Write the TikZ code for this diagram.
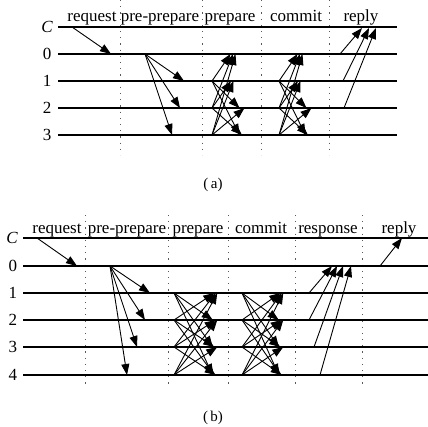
\documentclass[tikz,border=0pt]{standalone}
\usepackage{fontspec}
\setmainfont{Liberation Serif}
\usetikzlibrary{arrows.meta}
\begin{document}
\begin{tikzpicture}[x=1pt,y=-1pt,
  lane/.style={line width=1.3pt},
  msg/.style={line width=0.9pt,-{Triangle[length=11pt,width=8pt]}},
  sepline/.style={line width=1pt,black!65,dash pattern=on 1.2pt off 5pt},
  rowlabel/.style={inner sep=0pt,font=\fontsize{17}{20}\selectfont},
  phase/.style={inner sep=0pt,anchor=base,font=\fontsize{17}{20}\selectfont},
  captext/.style={inner sep=0pt,font=\fontsize{15}{18}\selectfont}]
\useasboundingbox (0,0) rectangle (428,426);
% ---------------- panel (a) ----------------
\foreach \x [count=\k] in {120,202,261,329}{
  \coordinate (aT\k) at (\x,0); \coordinate (aB\k) at (\x,155);
  \draw[sepline] (aT\k) -- (aB\k);}
\foreach \n/\y in {C/27,0/54,1/81,2/108,3/135}{
  \coordinate (aL\n) at (58,\y); \coordinate (aR\n) at (397,\y);
  \draw[lane] (aL\n) -- (aR\n);}
\node[rowlabel] (alC) at (47,27) {\textit{C}};
\node[rowlabel] (al0) at (47,54) {0};
\node[rowlabel] (al1) at (47,81) {1};
\node[rowlabel] (al2) at (47,108) {2};
\node[rowlabel] (al3) at (47,135) {3};
\node[phase] (aph1) at (92,21) {request};
\node[phase] (aph2) at (160,21) {pre-prepare};
\node[phase] (aph3) at (230,21) {prepare};
\node[phase] (aph4) at (296,21) {commit};
\node[phase] (aph5) at (361,21) {reply};
% request
\coordinate (aqS) at (72,27); \coordinate (aqE) at (111,54);
\draw[msg] (aqS) -- (aqE);
% pre-prepare
\coordinate (appS) at (145,54);
\coordinate (appE1) at (184,81); \coordinate (appE2) at (180,108); \coordinate (appE3) at (172,135);
\foreach \k in {1,2,3}{\draw[msg] (appS) -- (appE\k);}
% prepare & commit
\foreach \ph/\sx/\ta/\tb/\tc/\td in {p/212/233/231/242/242, c/279/300/298/309/308}{
  \foreach \s/\sy in {1/81,2/108,3/135}{
    \coordinate (a\ph S\s) at (\sx,\sy);
    \foreach \d/\dy/\tx in {0/54/\ta,1/81/\tb,2/108/\tc,3/135/\td}{
      \ifnum\s=\d\relax\else
        \coordinate (a\ph E\s\d) at ({\tx+(\s-2)*2.5},\dy);
        \draw[msg] (a\ph S\s) -- (a\ph E\s\d);
      \fi}}}
% reply
\coordinate (arS1) at (340,54); \coordinate (arE1) at (362,28);
\coordinate (arS2) at (343,81); \coordinate (arE2) at (369,28);
\coordinate (arS3) at (344,108); \coordinate (arE3) at (376,28);
\foreach \k in {1,2,3}{\draw[msg] (arS\k) -- (arE\k);}
\node[captext] (capa) at (213,185) {(\,a)};
% ---------------- panel (b) ----------------
\foreach \x [count=\k] in {85,168,228,295,362}{
  \coordinate (bT\k) at (\x,215); \coordinate (bB\k) at (\x,387);
  \draw[sepline] (bT\k) -- (bB\k);}
\foreach \n/\y in {C/238,0/266,1/293,2/320,3/347,4/375}{
  \coordinate (bL\n) at (23,\y); \coordinate (bR\n) at (428,\y);
  \draw[lane] (bL\n) -- (bR\n);}
\node[rowlabel] (blC) at (12,238) {\textit{C}};
\node[rowlabel] (bl0) at (13,266) {0};
\node[rowlabel] (bl1) at (13,293) {1};
\node[rowlabel] (bl2) at (13,320) {2};
\node[rowlabel] (bl3) at (13,347) {3};
\node[rowlabel] (bl4) at (13,375) {4};
\node[phase] (bph1) at (57,233) {request};
\node[phase] (bph2) at (127,233) {pre-prepare};
\node[phase] (bph3) at (198,233) {prepare};
\node[phase] (bph4) at (261,233) {commit};
\node[phase] (bph5) at (328,233) {response};
\node[phase] (bph6) at (399,233) {reply};
% request
\coordinate (bqS) at (37,238); \coordinate (bqE) at (77,266);
\draw[msg] (bqS) -- (bqE);
% pre-prepare
\coordinate (bppS) at (110,266);
\coordinate (bppE1) at (150,293); \coordinate (bppE2) at (145,320);
\coordinate (bppE3) at (137,347); \coordinate (bppE4) at (127,375);
\foreach \k in {1,2,3,4}{\draw[msg] (bppS) -- (bppE\k);}
% prepare & commit
\foreach \ph/\sx/\tx in {p/174/215, c/242/281}{
  \foreach \s/\sy in {1/293,2/320,3/347,4/375}{
    \coordinate (b\ph S\s) at (\sx,\sy);
    \foreach \d/\dy in {1/293,2/320,3/347,4/375}{
      \ifnum\s=\d\relax\else
        \coordinate (b\ph E\s\d) at ({\tx+(\s-2.5)*1.5},\dy);
        \draw[msg] (b\ph S\s) -- (b\ph E\s\d);
      \fi}}}
% response
\coordinate (brS1) at (309,293); \coordinate (brE1) at (332,266);
\coordinate (brS2) at (309,320); \coordinate (brE2) at (337,266);
\coordinate (brS3) at (314,347); \coordinate (brE3) at (343,266);
\coordinate (brS4) at (320,375); \coordinate (brE4) at (351,266);
\foreach \k in {1,2,3,4}{\draw[msg] (brS\k) -- (brE\k);}
% reply
\coordinate (byS) at (380,266); \coordinate (byE) at (402,238);
\draw[msg] (byS) -- (byE);
\node[captext] (capb) at (213,418) {(\,b)};
\end{tikzpicture}
\end{document}
